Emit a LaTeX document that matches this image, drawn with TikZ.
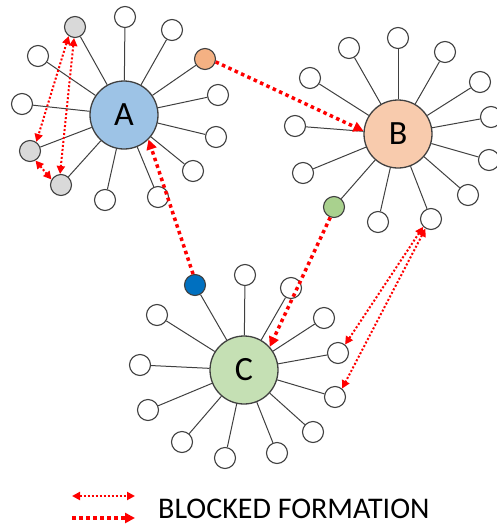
\documentclass[tikz,border=0pt]{standalone}
\usepackage{fontspec}
\setmainfont{Carlito}
\usetikzlibrary{arrows.meta}
\definecolor{hubA}{HTML}{9DC3E6}
\definecolor{hubB}{HTML}{F8CBAD}
\definecolor{hubC}{HTML}{C5E0B4}
\definecolor{leafgray}{HTML}{D9D9D9}
\definecolor{leaforange}{HTML}{F4B183}
\definecolor{leafgreen}{HTML}{A9D18E}
\definecolor{leafblue}{HTML}{0070C0}
\definecolor{edgegray}{HTML}{404040}
\tikzset{
    leaf/.style={circle, draw=edgegray, line width=1.1pt, fill=white, minimum size=21pt, inner sep=0pt},
    hub/.style={circle, draw=edgegray, line width=1.3pt, minimum size=68pt, inner sep=0pt, font=\fontsize{34}{34}\selectfont},
    spoke/.style={draw=edgegray, line width=1pt},
    blockthin/.style={red, line width=2pt, dash pattern=on 2pt off 2pt, {Triangle[length=8pt,width=8pt]}-{Triangle[length=8pt,width=8pt]}},
    blockthick/.style={red, line width=3.5pt, dash pattern=on 3.5pt off 3.5pt, -{Triangle[length=10pt,width=10pt]}}
}
\begin{document}
\begin{tikzpicture}[x=1pt, y=-1pt]
            \useasboundingbox (0,0) rectangle (496,528);
            \node [hub, fill=hubA] (A) at (124,115) {A};
            \node [hub, fill=hubB] (B) at (398,134) {B};
            \node [hub, fill=hubC] (C) at (244,370) {C};
            \foreach \x/\y [count=\i] in {125/17, 172/30, 218/95, 216/137, 193/171, 158/197, 105/200, 22/104, 38/56} {
                        \node [leaf] (A\i) at (\x,\y) {};
                        \draw [spoke] (A) -- (A\i);
                    }
            \foreach \x/\y [count=\i] in {398/38, 349/48, 445/52, 310/78, 480/82, 295/126, 491/117, 489/160, 303/173, 378/222, 468/195} {
                        \node [leaf] (B\i) at (\x,\y) {};
                        \draw [spoke] (B) -- (B\i);
                    }
            \foreach \x/\y [count=\i] in {245/275, 291/288, 157/315, 324/318, 140/365, 148/410, 182/442, 225/458, 277/453, 313/432} {
                        \node [leaf] (C\i) at (\x,\y) {};
                        \draw [spoke] (C) -- (C\i);
                    }
            \node [leaf, fill=leaforange] (Ao)  at (205,59)  {};
            \node [leaf, fill=leafgray]   (Ag1) at (75,27)   {};
            \node [leaf, fill=leafgray]   (Ag2) at (30,151)  {};
            \node [leaf, fill=leafgray]   (Ag3) at (61,185)  {};
            \node [leaf]                  (Bx)  at (431,219) {};
            \node [leaf, fill=leafgreen]  (Bg)  at (334,207) {};
            \node [leaf]                  (Cr)  at (338,353) {};
            \node [leaf]                  (Crl) at (335,397) {};
            \node [leaf, fill=leafblue]   (Cb)  at (195,285) {};
            \foreach \n in {Ao, Ag1, Ag2, Ag3} {
                        \draw [spoke] (A) -- (\n);
                    }
            \foreach \n in {Bx, Bg} {
                        \draw [spoke] (B) -- (\n);
                    }
            \foreach \n in {Cr, Crl, Cb} {
                        \draw [spoke] (C) -- (\n);
                    }
            \draw [blockthin] (Ag1.235) -- (Ag2.55);
            \draw [blockthin] (Ag1.265) -- (Ag3.95);
            \draw [blockthin] (Ag2.300) -- (Ag3.150);
            \draw [blockthin] (Bx.225) -- (Cr.50);
            \draw [blockthin] (Bx.240) -- (Crl.50);
            \draw [blockthick] (Ao.-15) -- (B.175);
            \draw [blockthick] (Cb.100) -- (A.-45);
            \draw [blockthick] (Bg.250) -- (C.42);
            \coordinate (L1a) at (72,496);
            \coordinate (L1b) at (135,496);
            \coordinate (L2a) at (72,518);
            \coordinate (L2b) at (135,518);
            \draw [blockthin] (L1a) -- (L1b);
            \draw [blockthick] (L2a) -- (L2b);
            \node [anchor=base west, inner sep=0pt, font=\fontsize{30}{30}\selectfont] (legend) at (158,518) {BLOCKED FORMATION};
        \end{tikzpicture}
\end{document}
